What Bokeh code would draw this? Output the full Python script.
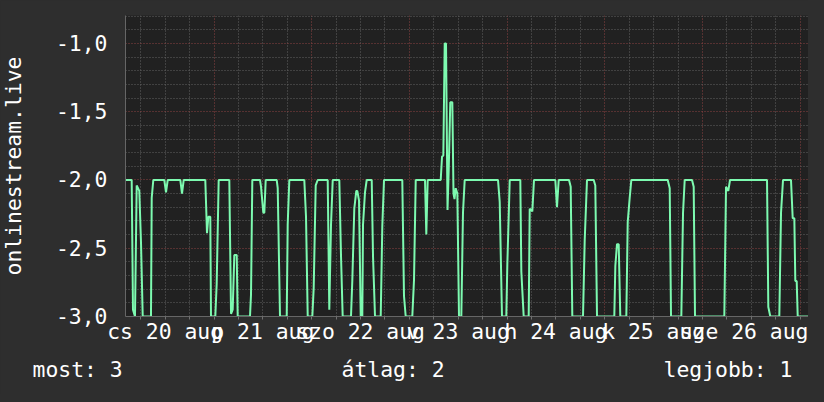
from bokeh.plotting import figure
from bokeh.models import FixedTicker, Range1d, Title
from bokeh.embed import file_html
from bokeh.resources import INLINE

# ---- data (hours since 2020-08-20 00:00, negated rank) ----
hours = [2.26, 3.78, 4.10, 4.59, 5.01, 5.65, 6.07, 6.49, 8.52, 8.70, 9.09, 11.79, 12.21, 12.63,
         15.72, 16.14, 16.56, 21.86, 22.28, 22.60, 23.09, 23.26, 24.32, 24.66, 25.15, 27.76,
         28.18, 28.59, 28.99, 29.58, 29.82, 32.84, 33.09, 33.41, 35.30, 35.55, 36.11, 36.36,
         36.70, 39.40, 39.65, 40.21, 41.86, 42.10, 42.50, 46.18, 46.60, 47.02, 48.15, 48.49,
         48.98, 49.47, 51.93, 52.32, 52.74, 53.16, 54.78, 55.20, 55.61, 57.65, 57.97, 58.46,
         58.95, 59.20, 59.62, 60.04, 60.43, 60.60, 61.09, 61.51, 62.74, 63.06, 63.55, 64.95,
         65.34, 65.76, 70.25, 70.67, 71.09, 72.71, 73.13, 73.55, 75.83, 76.15, 76.49, 79.69,
         80.01, 80.33, 80.67, 80.99, 81.36, 81.65, 82.04, 82.54, 82.83, 83.08, 83.37, 83.77,
         84.18, 84.75, 85.16, 85.58, 93.76, 94.18, 94.74, 95.80, 96.05, 96.64, 99.24, 99.49,
         100.07, 101.30, 101.55, 102.19, 102.60, 107.84, 108.25, 108.67, 111.20, 111.62,
         112.01, 114.64, 115.06, 115.62, 117.27, 117.66, 118.08, 122.33, 122.58, 122.99,
         123.41, 123.80, 125.28, 125.62, 126.11, 126.51, 135.45, 135.94, 136.26, 138.79,
         139.21, 139.62, 141.42, 141.83, 142.15, 149.35, 149.77, 150.33, 150.75, 159.84,
         160.16, 160.65, 162.86, 163.28, 163.77, 165.73, 166.15, 166.55, 166.79, 167.13,
         167.38, 170.28]
rank = [-2.0, -2.0, -2.95, -3.0, -2.04, -2.08, -2.46, -3.0, -3.0, -2.13, -2.0, -2.0, -2.09, -2.0,
        -2.0, -2.10, -2.0, -2.0, -2.39, -2.27, -2.27, -3.0, -3.0, -2.76, -2.0, -2.0,
        -2.98, -2.95, -2.55, -2.55, -3.0, -3.0, -2.84, -2.0, -2.0, -2.05, -2.24, -2.24,
        -2.0, -2.0, -2.06, -3.0, -3.0, -2.33, -2.0, -2.0, -2.27, -3.0, -3.0, -2.79,
        -2.04, -2.0, -2.0, -2.95, -2.33, -2.0, -2.0, -2.56, -3.0, -3.0, -2.74, -2.21,
        -2.08, -2.08, -2.15, -3.0, -3.0, -2.33, -2.09, -2.0, -2.0, -2.56, -3.0, -3.0,
        -2.34, -2.0, -2.0, -2.85, -3.0, -3.0, -2.73, -2.0, -2.0, -2.40, -2.0, -2.0,
        -1.83, -1.82, -1.0, -1.0, -2.22, -1.93, -1.43, -1.43, -2.10, -2.14, -2.06, -2.10,
        -3.0, -3.0, -2.24, -2.0, -2.0, -2.16, -3.0, -3.0, -2.62, -2.0, -2.0, -2.67,
        -3.0, -3.0, -2.21, -2.23, -2.0, -2.0, -2.20, -2.0, -2.0, -2.05,
        -3.0, -3.0, -2.44, -2.0, -2.0, -2.04, -3.0, -3.0, -2.63, -2.47,
        -2.47, -3.0, -3.0, -2.31, -2.13, -2.0, -2.0, -2.06, -3.0, -3.0,
        -2.24, -2.0, -2.0, -2.05, -3.0, -3.0, -2.05, -2.08, -2.0, -2.0,
        -2.93, -3.0, -3.0, -2.24, -2.0, -2.0, -2.28, -2.28, -2.74, -2.74,
        -3.0, -3.0]

day_ticks = [12, 36, 60, 84, 108, 132, 156]
day_labels = ["cs 20 aug", "p 21 aug", "szo 22 aug", "v 23 aug", "h 24 aug", "k 25 aug", "sze 26 aug"]
y_ticks = [-3.0, -2.5, -2.0, -1.5, -1.0]
y_labels = ["-3,0", "-2,5", "-2,0", "-1,5", "-1,0"]
legend_names = ["most", "átlag", "legjobb"]
legend_values = [3, 2, 1]
series_name = "onlinestream.live"

FONT = "DejaVu Sans Mono"
FS = "21.4px"
TXT = "#ffffff"
BG = "#2e2e2e"
NB = "\u00a0"

p = figure(width=808, height=394, output_backend="svg", toolbar_location=None,
           x_range=Range1d(2.26, 170.03), y_range=Range1d(-3.0, -0.795),
           min_border_left=125, min_border_right=0, min_border_top=15, min_border_bottom=78)
p.background_fill_color = "#212121"
p.border_fill_color = BG
p.outline_line_color = None

midnights = list(range(24, 169, 24))
six_hours = [h for h in range(6, 171, 6) if h % 24]
y_minor = [round(-3 + 0.1 * i, 1) for i in range(1, 23) if i % 5]

for g, major, minor in ((p.xgrid, midnights, six_hours), (p.ygrid, y_ticks, y_minor)):
    g.ticker = FixedTicker(ticks=major, minor_ticks=minor)
    g.grid_line_color = "#8c4242"
    g.grid_line_dash = "1 2"
    g.minor_grid_line_color = "#626262"
    g.minor_grid_line_dash = "1 2"

xa = p.xaxis[0]
xa.ticker = FixedTicker(ticks=day_ticks, minor_ticks=list(range(6, 171, 6)))
xa.major_label_overrides = {t: l for t, l in zip(day_ticks, day_labels)}
xa.major_tick_line_color = None
xa.major_tick_out = 0
xa.major_tick_in = 0
xa.minor_tick_line_color = "#707070"
xa.minor_tick_out = 3
xa.minor_tick_in = 0
xa.axis_line_color = "#666666"
xa.major_label_standoff = -1
xa.major_label_text_font = FONT
xa.major_label_text_font_size = FS
xa.major_label_text_color = TXT

ya = p.yaxis[0]
ya.ticker = FixedTicker(ticks=y_ticks)
ya.major_label_overrides = {t: NB * 3 + l for t, l in zip(y_ticks, y_labels)}
ya.major_tick_line_color = None
ya.major_tick_out = 0
ya.major_tick_in = 0
ya.minor_tick_line_color = None
ya.axis_line_color = "#666666"
ya.major_label_standoff = 18
ya.major_label_text_font = FONT
ya.major_label_text_font_size = FS
ya.major_label_text_color = TXT

# vertical series name on the left
p.add_layout(Title(text=series_name, align="center", standoff=-23,
                   text_font=FONT, text_font_size=FS, text_font_style="normal",
                   text_color=TXT), "left")

# legend line (current / average / best), monospace spaced like the original
legend_parts = [f"{n}: {v}" for n, v in zip(legend_names, legend_values)]
p.add_layout(Title(text=(NB * 17).join(legend_parts), align="left", offset=-93, standoff=16,
                   text_font=FONT, text_font_size=FS, text_font_style="normal",
                   text_color=TXT), "below")

p.line(hours, rank, line_color="#7dfab0", line_width=2)

html = file_html(p, INLINE)
html = html.replace("<head>", "<head><style>body{background:#2e2e2e;}</style>", 1)
open("out.html", "w").write(html)
